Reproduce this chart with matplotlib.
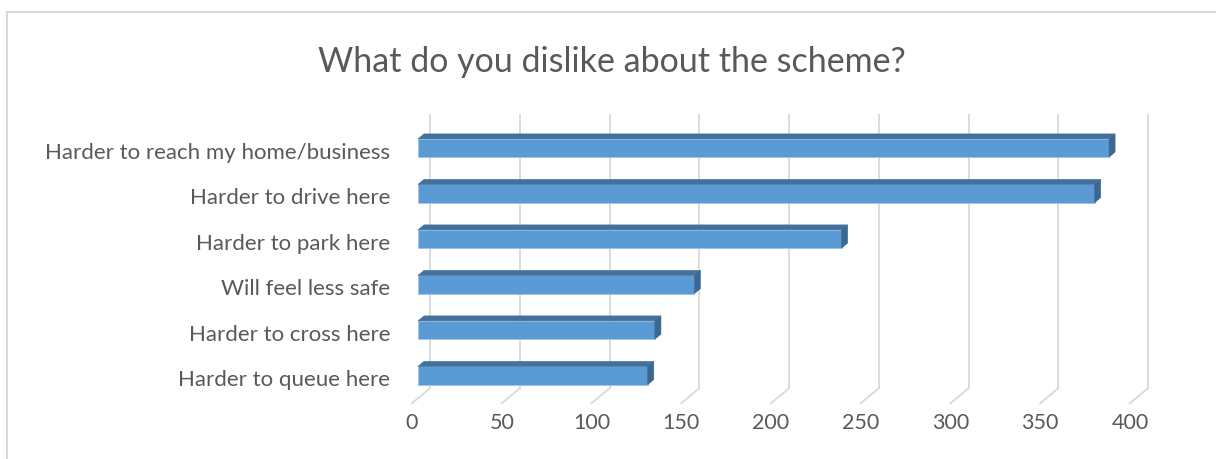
import matplotlib
matplotlib.use("Agg")
import matplotlib.pyplot as plt
from matplotlib.patches import Polygon
from matplotlib.lines import Line2D

# ---- data ----
categories = ["Harder to reach my home/business", "Harder to drive here",
              "Harder to park here", "Will feel less safe",
              "Harder to cross here", "Harder to queue here"]
values = [385, 377, 236, 154, 132, 128]
xticks = [0, 50, 100, 150, 200, 250, 300, 350, 400]
title = "What do you dislike about the scheme?"

# ---- style ----
FONT = ["Lato", "DejaVu Sans"]
plt.rcParams["font.family"] = FONT
TXT = "#595959"
GRID = "#D9D9D9"
FRONT = "#5B9BD5"
TOP = "#41719C"
SIDE = "#3A6891"

W, H = 1216, 460
fig = plt.figure(figsize=(W / 100, H / 100), dpi=100)

# axes in front-plane coordinates
x0, x1 = 0, 420
px_per_unit = 1.795
left_px = 412
ax_w = (x1 - x0) * px_per_unit
top_px, bot_px = 131.25, 404.25
ax = fig.add_axes([left_px / W, (H - bot_px) / H, ax_w / W, (bot_px - top_px) / H])
ax.set_xlim(x0, x1)
ax.set_ylim(-0.5, 5.5)
for s in ax.spines.values():
    s.set_visible(False)
ax.set_yticks([])
ax.patch.set_alpha(0)

# depth vector (front plane -> back wall) in data units
DX = 18 / px_per_unit
DY = 15 / 45.5

# gridlines: back wall + floor diagonal
for t in xticks:
    ax.add_line(Line2D([t + DX, t + DX], [-0.5 + DY, 5.5 + DY], color=GRID, lw=1.3,
                       clip_on=False, zorder=1))
    ax.add_line(Line2D([t, t + DX], [-0.5, -0.5 + DY], color=GRID, lw=1.3,
                       clip_on=False, zorder=1))

# bars
n = len(categories)
half = 0.2
d0, d1 = 1 / 3, 2 / 3
for i, (cat, v) in enumerate(zip(categories, values)):
    j = n - 1 - i
    fx, fy = d0 * DX, d0 * DY
    bx, by = d1 * DX, d1 * DY
    # front face
    ax.add_patch(Polygon([(fx, j - half + fy), (v + fx, j - half + fy),
                          (v + fx, j + half + fy), (fx, j + half + fy)],
                         closed=True, facecolor=FRONT, edgecolor="#9DC3E6",
                         lw=0.6, zorder=3, clip_on=False))
    # top face
    ax.add_patch(Polygon([(fx, j + half + fy), (v + fx, j + half + fy),
                          (v + bx, j + half + by), (bx, j + half + by)],
                         closed=True, facecolor=TOP, edgecolor=TOP, lw=0.4,
                         zorder=3, clip_on=False))
    # side face
    ax.add_patch(Polygon([(v + fx, j - half + fy), (v + bx, j - half + by),
                          (v + bx, j + half + by), (v + fx, j + half + fy)],
                         closed=True, facecolor=SIDE, edgecolor=SIDE, lw=0.4,
                         zorder=3, clip_on=False))
    # category label
    ax.text(-22 / px_per_unit, j + fy - 0.08, cat, ha="right", va="center",
            fontsize=16, color=TXT, clip_on=False)

ax.set_xticks(xticks)
ax.set_xticklabels([str(t) for t in xticks], fontsize=15.5, color=TXT)
ax.tick_params(axis="x", length=0, pad=6)

fig.text(612 / W, 1 - 62 / H, title, ha="center", va="center", fontsize=24.5, color=TXT)

# chart frame
fig.add_artist(Line2D([7 / W, 1], [1 - 13 / H, 1 - 13 / H], transform=fig.transFigure,
                      color=GRID, lw=1.5))
fig.add_artist(Line2D([7 / W, 7 / W], [0, 1 - 13 / H], transform=fig.transFigure,
                      color=GRID, lw=1.5))

fig.savefig("out.png", dpi=100, facecolor="white")
